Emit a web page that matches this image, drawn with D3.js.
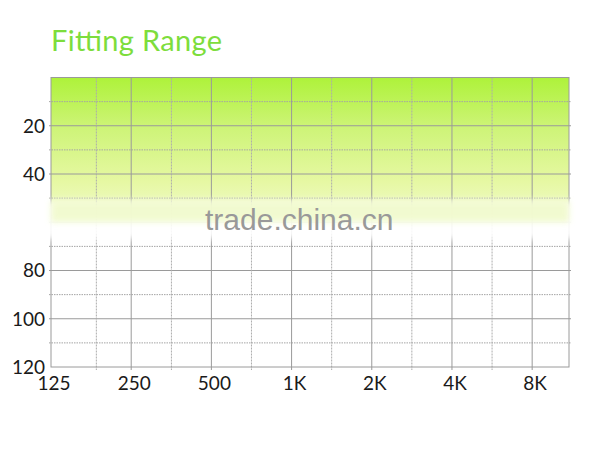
<!DOCTYPE html>
<html>
<head>
<meta charset="utf-8">
<script src="https://cdnjs.cloudflare.com/ajax/libs/d3/7.8.5/d3.min.js"></script>
<style>
  body { margin: 0; background: #fff; }
  svg { display: block; }
</style>
</head>
<body>
<script>
// frequency axis (Hz)
const majorFreqs = [125, 250, 500, 1000, 2000, 4000, 8000];
const freqLabels = ["125", "250", "500", "1K", "2K", "4K", "8K"];
const minorFreqs = [185, 354, 707, 1414, 2828, 5657];
// hearing level axis (dB)
const solidLevels = [20, 40, 60, 80, 100];
const dottedLevels = [10, 30, 50, 70, 90, 110];
const levelLabels = [20, 40, 80, 100, 120];
// shaded fitting range (dB)
const fitRange = [0, 60];

var width = 600, height = 462;

var svg = d3.select("body")
    .append("svg")
    .attr("width", width)
    .attr("height", height);

var x = d3.scaleLog().base(2).domain([125, 11000]).range([51, 569]);
var y = d3.scaleLinear().domain([0, 120]).range([77.5, 367]);

var defs = svg.append("defs");
var grad = defs.append("linearGradient")
    .attr("id", "fit")
    .attr("x1", 0).attr("y1", 0).attr("x2", 0).attr("y2", 1);
grad.append("stop").attr("offset", "0%").attr("stop-color", "#aef23a");
grad.append("stop").attr("offset", "35%").attr("stop-color", "#cef478");
grad.append("stop").attr("offset", "72%").attr("stop-color", "#e6f8a3");
grad.append("stop").attr("offset", "100%").attr("stop-color", "#f2fbcf");

defs.append("filter")
    .attr("id", "blur")
    .attr("x", "-5%").attr("y", "-50%").attr("width", "110%").attr("height", "200%")
    .append("feGaussianBlur")
    .attr("stdDeviation", 3);

// title
svg.append("text")
    .attr("x", 51)
    .attr("y", 51)
    .attr("font-family", "Lato, 'Open Sans', sans-serif")
    .attr("font-size", 29)
    .attr("textLength", 171)
    .attr("lengthAdjust", "spacing")
    .attr("fill", "#7ddd3c")
    .text("Fitting Range");

// green band
svg.append("rect")
    .attr("x", x(125))
    .attr("y", y(fitRange[0]))
    .attr("width", x.range()[1] - x(125))
    .attr("height", y(fitRange[1]) - y(fitRange[0]))
    .attr("fill", "url(#fit)");

var grid = svg.append("g");

grid.selectAll("line.hsolid").data(solidLevels).enter()
    .append("line")
    .attr("x1", x(125) - 2).attr("x2", x.range()[1] + 2)
    .attr("y1", d => y(d)).attr("y2", d => y(d))
    .attr("stroke", "#9a9a9a")
    .attr("stroke-width", 1);

grid.selectAll("line.hdot").data(dottedLevels).enter()
    .append("line")
    .attr("x1", x(125) - 2).attr("x2", x.range()[1] + 2)
    .attr("y1", d => y(d)).attr("y2", d => y(d))
    .attr("stroke", "#a4a4a4")
    .attr("stroke-width", 1)
    .attr("stroke-dasharray", "1.5,1");

grid.selectAll("line.vsolid").data(majorFreqs.slice(1)).enter()
    .append("line")
    .attr("x1", d => x(d)).attr("x2", d => x(d))
    .attr("y1", y(0)).attr("y2", y(120) + 3)
    .attr("stroke", "#9a9a9a")
    .attr("stroke-width", 1);

grid.selectAll("line.vdot").data(minorFreqs).enter()
    .append("line")
    .attr("x1", d => x(d)).attr("x2", d => x(d))
    .attr("y1", y(0)).attr("y2", y(120) + 3)
    .attr("stroke", "#acacac")
    .attr("stroke-width", 1)
    .attr("stroke-dasharray", "2,1");

// frame
svg.append("rect")
    .attr("x", x(125))
    .attr("y", y(0))
    .attr("width", x.range()[1] - x(125))
    .attr("height", y(120) - y(0))
    .attr("fill", "none")
    .attr("stroke", "#9a9a9a")
    .attr("stroke-width", 1);

// watermark band
svg.append("rect")
    .attr("x", 40)
    .attr("y", y(50) + 3)
    .attr("width", 540)
    .attr("height", 38)
    .attr("fill", "#fff")
    .attr("opacity", 0.92)
    .attr("filter", "url(#blur)");

svg.append("rect")
    .attr("x", x(125))
    .attr("y", y(50) + 3)
    .attr("width", x.range()[1] - x(125))
    .attr("height", y(fitRange[1]) - y(50) - 3)
    .attr("fill", "#eef9c2")
    .attr("opacity", 0.75)
    .attr("filter", "url(#blur)");

svg.append("text")
    .attr("x", 205)
    .attr("y", 230)
    .attr("font-family", "'Liberation Sans', Arial, sans-serif")
    .attr("font-size", 30)
    .attr("fill", "#999")
    .text("trade.china.cn");

// axis labels
svg.append("g").selectAll("text").data(levelLabels).enter()
    .append("text")
    .attr("x", 45)
    .attr("y", d => y(d))
    .attr("dy", "0.36em")
    .attr("text-anchor", "end")
    .attr("font-family", "Lato, 'Open Sans', sans-serif")
    .attr("font-size", 19)
    .attr("fill", "#1a1a1a")
    .text(d => d);

svg.append("g").selectAll("text").data(majorFreqs).enter()
    .append("text")
    .attr("x", d => x(d))
    .attr("dx", 3)
    .attr("y", 390)
    .attr("text-anchor", "middle")
    .attr("font-family", "Lato, 'Open Sans', sans-serif")
    .attr("font-size", 19)
    .attr("fill", "#1a1a1a")
    .text((d, i) => freqLabels[i]);
</script>
</body>
</html>
